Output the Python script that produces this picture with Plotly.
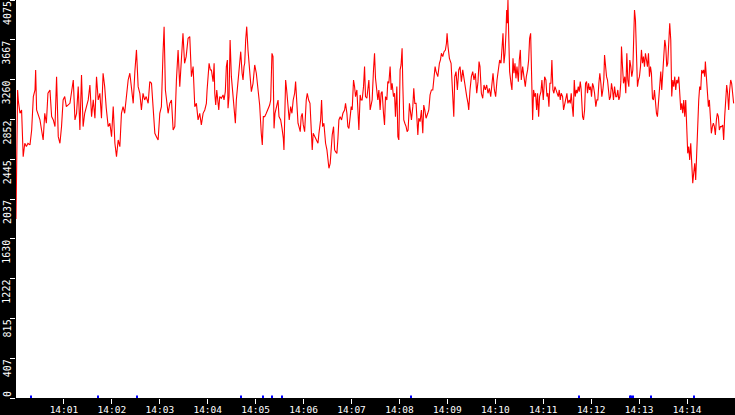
import pandas as pd
import plotly.graph_objects as go

time_s = [
    0, 1, 2, 3, 5, 7, 9, 11, 13, 15, 17.5, 19.6, 21.7, 23.8, 24.6, 25.8, 27.9, 30, 32, 34,
    36, 38, 40, 42.5, 44.6, 46.7, 48.8, 50.8, 52.9, 55, 57, 59, 61, 63, 67.5, 69.6, 71.7, 73.8, 75.8, 77.9,
    80, 82, 84, 86, 88, 90.4, 92.5, 94.6, 96.7, 98.8, 100.8, 102.9, 105, 107, 109, 111, 113, 115.4, 117.5, 119.6,
    121.7, 123.8, 125.8, 127.9, 130, 132, 134, 136, 138, 140.4, 142.5, 144.6, 146.7, 148.8, 150.8, 152.9, 155, 157, 159, 161,
    163, 165.4, 167.5, 169.6, 171.7, 173.8, 175.8, 177.9, 180, 182, 184, 185.4, 187, 188, 190.4, 192.5, 194.6, 196.7, 198.8, 200.8,
    202.9, 205, 207, 209, 211, 213, 215.4, 217.5, 219.6, 221.7, 223.8, 225.8, 227.9, 230,
    232, 234.2, 236.3, 238.3, 239.2, 240.4, 241.7, 243.3, 244.6, 246.7, 248, 248.8, 250, 251.3, 253, 253.8, 255, 257, 259.2, 260.4,
    262, 263.3, 264.6, 265.4, 266.7, 268, 269.6, 271.7, 273, 274.6, 275.8, 278, 280, 281.3, 283, 284.2, 285.4, 286.3, 287.5, 288.8,
    290.4, 291.7, 293, 294.6, 296.7, 298.8, 300.8, 302.9, 305, 307, 308.3, 309.6, 311.3, 313.3, 315.4, 317.5, 318.8, 320.4, 321.7, 323,
    324.2, 325.8, 328, 329.2, 331.3, 333, 334.6, 335.4, 336.3, 337.5, 338.8, 340.4, 342, 343.8, 345.4, 347, 348.8, 350, 351.3, 353,
    354.2, 355.8, 357, 358.3, 359.6, 361.3, 363.3, 364.6, 366.3, 368, 369.6, 370.8, 372, 373.8, 375.8, 378, 379.2, 381.3, 382.5, 383.8,
    385.4,
    387.5, 389.2, 390.4, 391.7, 393.3, 394.6, 395.8, 397.5, 398.8, 400, 401.7, 403, 404.2, 405.8, 407.5, 409.2, 411.3, 412.5, 414.2, 415.4,
    416.7, 418.3, 419.6, 420.8, 422.5, 423.8, 425, 426.7, 428, 429.2, 430.8, 432, 433.3, 435, 436.3, 437.5, 439.2, 440.4, 441.7, 443.3,
    444.6, 445.8, 447.5, 448.8, 450, 451.7, 452.9, 454.2, 455.8, 457, 458.3, 460, 461.3, 462.5, 464.2, 465.4, 466.7, 468.3, 469.6, 470.8,
    472.5, 473.8, 475, 476.7, 478, 479.2, 480.8, 482, 483.3, 484.2, 485.4, 486.7, 488.3, 489.6, 490.8, 492.5, 493.8, 495, 496.7, 497.9,
    499.2, 500.8, 503, 504.2, 505.8, 507.5, 509.2, 510.4, 511.7, 513.3, 515.4, 516.7, 518.3, 520, 521.7, 523.3, 524.6, 525.8, 528, 530,
    531.3, 532.5, 534.2, 535.8, 537.5, 538.8, 539.6, 540.8, 542.5, 544.6, 546.7, 548,
    549.2, 550.8, 552.5, 554.2, 555.8, 557.5, 559.2, 560.8, 562.5, 564.2, 565.8, 566.7, 568.3, 570, 571.7, 573.3, 575, 576.7, 578.3, 579.6,
    580.8, 582.5, 584.2, 585.8, 587.5, 589.2, 590.8, 592.5, 594.2, 595.8, 597.1, 598.8, 600.4, 602.1, 603.8, 605.4, 607.1, 608.3, 609.6, 610.8,
    612.1, 613.3, 614.2, 615, 615.8, 616.7, 617.9, 619.6, 620.8, 622.1, 623.3, 624.6, 625.8, 627.1, 628.8, 630, 631.3, 632.5, 634.2, 635.8,
    637.5, 638.8, 640.4, 641.7, 642.9, 644.2, 645.4, 646.7, 647.9, 649.2, 650.4, 651.7, 652.9, 654.2, 655.4, 657.1, 658.3, 660, 661.7, 663.3,
    664.6, 665.8, 667.1, 668.3, 669.6, 670.8, 672.1, 673.3, 674.6, 675.8, 677.5, 678.8, 680, 681.3, 682.5, 684.2, 685.4, 686.7, 688.3, 689.6,
    690.8, 692.5, 693.8, 695, 696.3, 697.5, 698.8, 700, 701.3, 702.5, 703.8, 705, 706.3, 707.5, 709.2, 710.4, 711.7, 712.9, 714.2, 715.4,
    716.7, 717.9, 719.2, 720.4, 721.7, 722.9, 724.2, 725.8, 727.1, 728.3, 729.6, 730.8, 732.1, 733.3, 734.6, 735.8, 736.7, 737.9, 739.2, 740.4,
    741.7, 742.9, 744.2, 745.4, 746.7, 747.9, 749.2, 750.8, 752.1, 753.3, 754.6, 755.8, 757.1, 757.9, 759.2, 760.4, 762.1, 763.3, 764.6, 765.8,
    767.1, 768.3, 769.6, 770.8, 772.1, 772.9, 774.2, 775.4, 776.7, 777.9, 779.2, 780.4, 781.7, 782.9, 784.2, 785.4, 786.7, 787.9, 789.2, 790.4,
    791.7, 792.9, 794.2, 795.4, 796.7, 797.9, 799.2, 800.4, 801.7, 802.9, 804.2, 805.8, 807.1, 808.3, 809.6, 810.8, 812.1, 813.3, 814.6, 815.8,
    817.1, 818.3, 819.6, 820.8, 822.1, 823.3, 824.6, 825.8, 827.1, 828.3, 829.6, 830.8, 832.1, 833.3, 834.6, 835.8, 837.1, 838.3, 839.6, 840.8,
    842.1, 843.3, 844.6, 845.8, 847.1, 848.3, 849.6, 850.8, 852.1, 853.3, 854.6, 855.8, 857.1, 858.3, 859.6, 860.8, 862.1, 862.9, 864.2, 865.4,
    866.7, 867.9, 869.2, 870.4, 871.7, 872.9, 874.2, 875.4, 876.7, 877.9, 879.2, 880.4, 881.7, 883.3, 884.6, 885.8, 887.1, 888.3, 889.6, 890.8,
    892.1, 893.3, 894.6, 895.8, 896.7, 898.3,
]
load = [
    1833, 2864, 3154, 3034, 2915, 2949, 2471, 2608, 2574, 2608, 2591, 2744, 3086, 3154, 3359, 2949, 2898, 2847, 2744, 2642,
    2915, 2813, 3120, 3154, 2881, 2847, 2779, 3290, 2676, 2608, 2779, 3052, 3086, 2983, 3017, 3154, 3256, 2847, 2915, 3188,
    2744, 3308, 2779, 2915, 2983, 3052, 3205, 2881, 3052, 2864, 3290, 3052, 3120, 2864, 3325, 3188, 2966, 2779, 2813, 2676,
    2983, 2608, 2471, 2642, 2574, 2915, 2983, 2915, 3069, 3256, 3325, 3188, 3017, 3342, 3564, 3188, 3120, 2949, 3120, 3052,
    3086, 3017, 3239, 3222, 2898, 2710, 2676, 2642, 2915, 2983, 3529, 3802, 3154, 3086, 2915, 3017, 3052, 2744, 2779, 3256,
    3564, 3188, 3529, 3734, 3427, 3495, 3683, 3700, 3290, 3393, 2983, 3017, 2847, 2915,
    2796, 2915, 2949, 3017, 3154, 3256, 3427, 3359, 3359, 3239, 3427, 3120, 3000, 3154, 3051, 2949, 3086, 3069, 3103, 3051,
    3137, 3393, 3461, 2966, 3086, 3666, 3290, 3051, 2949, 2813, 3051, 3256, 3427, 3546, 3325, 3256, 3393, 3427, 3666, 3802,
    3563, 3427, 3325, 3137, 3222, 3410, 3325, 3154, 3000, 2710, 2591, 2881, 2881, 2915, 2949, 3000, 3051, 3529, 3495, 2761,
    2915, 2983, 3051, 2881, 2847, 2761, 2659, 2540, 2949, 3256, 3154, 2949, 2847, 2983, 2915, 3051, 3120, 3239, 2983, 2813,
    2778, 2727, 2881, 2915, 2796, 2727, 3051, 3120, 3051, 3017, 2744, 2540, 2710, 2676, 2642, 2608, 2710, 2847, 3051, 2778,
    2813,
    2608, 2540, 2437, 2352, 2403, 2574, 2693, 2778, 2540, 2522, 2505, 2659, 2847, 2881, 2847, 2915, 2949, 3017, 2915, 2778,
    2761, 2881, 2983, 2949, 3256, 3188, 3086, 3154, 2881, 2744, 3103, 3051, 3051, 3188, 3393, 3086, 3069, 3188, 3256, 2949,
    3000, 3051, 3359, 3529, 3273, 3120, 3051, 3154, 2949, 3120, 3137, 2915, 2796, 3086, 3051, 3239, 3222, 3393, 3154, 3222,
    3086, 3120, 2881, 3188, 2676, 2642, 3359, 3410, 3580, 3205, 2847, 2813, 2778, 2727, 2744, 3017, 2949, 2847, 2983, 3171,
    3017, 3017, 2693, 2864, 2830, 2949, 2710, 3000, 2949, 2864, 2915, 2949, 3103, 3154, 3154, 3290, 3393, 3342, 3290, 3427,
    3461, 3529, 3495, 3546, 3563, 3632, 3734, 3598, 3478, 3427, 3051, 2881,
    3291, 3342, 3154, 3359, 3393, 3239, 3359, 3256, 3154, 3086, 3017, 2949, 3154, 3290, 3342, 3256, 3325, 3120, 3239, 3444,
    3393, 3120, 3069, 3205, 3154, 3205, 3120, 3171, 3086, 3256, 3325, 3154, 3086, 3256, 3393, 3461, 3427, 3581, 3734, 3427,
    3529, 3734, 3973, 3837, 4075, 3734, 3342, 3222, 3154, 3478, 3325, 3427, 3273, 3393, 3239, 3461, 3564, 3256, 3393, 3290,
    3188, 3290, 3359, 3461, 3683, 3734, 3359, 2847, 3154, 3086, 3120, 2949, 3120, 2881, 3086, 3137, 3256, 3052, 3290, 3256,
    3086, 3120, 2983, 3222, 3222, 3461, 3154, 3120, 3188, 3154, 3120, 3086, 3154, 3052, 3120, 3086, 2949, 3017, 3052, 3120,
    3017, 3052, 3017, 3120, 2983, 2881, 3256, 3086, 3154, 3120, 3188, 3137, 3239, 3154, 2881, 2847, 2949, 3222, 3239, 3120,
    3222, 3154, 3188, 3086, 3222, 3188, 3120, 2983, 3052, 3052, 3222, 3325, 3222, 3086, 3154, 3256, 3512, 3393, 3290, 3256,
    3120, 3052, 3086, 3222, 3154, 3052, 3188, 3086, 3086, 3154, 3052, 3086, 3239, 3598, 3393, 3222, 3290, 3120, 3529, 3256,
    3188, 3461, 3393, 3290, 3359, 3700, 3973, 3871, 3564, 3188, 3256, 3290, 3393, 3564, 3427, 3495, 3393, 3529, 3461, 3393,
    3529, 3290, 3393, 3325, 3069, 3052, 3154, 2983, 2915, 2881, 3017, 3256, 3342, 3154, 3325, 3564, 3666, 3598, 3393, 3427,
    3768, 3837, 3666, 3086, 3256, 3188, 3290, 3154, 3256, 3222, 3290, 3154, 2949, 3017, 2915, 3052, 2881, 3052, 2710, 2505,
    2574, 2437, 2608, 2369, 2198, 2301, 2403, 2232, 2574, 2881, 3052, 3188, 3154, 3359, 3325, 3359, 3290, 3444, 3290, 3052,
    2983, 3052, 2813, 2710, 2779, 2813, 2779, 2693, 2847, 2915, 2881, 2744, 2779, 2779, 2796, 2642, 2881, 3052, 3205, 3120,
    2949, 3154, 3256, 3222, 3120, 3017,
]
assert len(time_s) == len(load)

# small blue events near zero
event_s = [19, 103, 151, 282, 309, 321, 333, 494, 705, 768, 770, 772, 795, 849]
event_val = [25] * len(event_s)

y_ticks = [0, 407, 815, 1222, 1630, 2037, 2445, 2852, 3260, 3667, 4075]
x_tick_labels = ["14:01", "14:02", "14:03", "14:04", "14:05", "14:06", "14:07",
                 "14:08", "14:09", "14:10", "14:11", "14:12", "14:13", "14:14"]

day = "2024-01-01"
base = pd.Timestamp(f"{day} 14:00:00")
x = base + pd.to_timedelta(time_s, unit="s")
x_events = base + pd.to_timedelta(event_s, unit="s")
x_tickvals = [pd.Timestamp(f"{day} {lbl}:00") for lbl in x_tick_labels]

fig = go.Figure()
fig.add_trace(go.Bar(x=x_events, y=event_val, width=1200,
                     marker=dict(color="#0000ff", line=dict(width=0))))
fig.add_trace(go.Scatter(x=x, y=load, mode="lines",
                         line=dict(color="#ff0000", width=1.1)))

yfont = dict(family="DejaVu Sans Mono", size=10, color="white")
xfont = dict(family="DejaVu Sans Mono", size=9.5, color="white")

# y labels hang below their tick (the bottom one sits above it)
for v in y_ticks:
    fig.add_annotation(text=str(v), xref="paper", x=0, xshift=-9, xanchor="center",
                       yref="y", y=v, yanchor="bottom" if v == 0 else "top",
                       textangle=-90, showarrow=False, font=yfont, borderpad=0)

fig.update_layout(
    width=735, height=415,
    margin=dict(l=16, r=0, t=0, b=17, pad=0),
    paper_bgcolor="black", plot_bgcolor="white",
    showlegend=False,
    xaxis=dict(range=[f"{day} 14:00:00", f"{day} 14:15:00"],
               tickvals=x_tickvals, ticktext=x_tick_labels,
               ticks="outside", ticklen=5, tickcolor="white", tickwidth=1,
               ticklabelstandoff=-2,
               tickfont=xfont, showgrid=False, zeroline=False,
               showline=False, automargin=False),
    yaxis=dict(range=[0, 4075], tickvals=y_ticks, showticklabels=False,
               ticks="outside", ticklen=5, tickcolor="white", tickwidth=1,
               showgrid=False, zeroline=False,
               showline=False, automargin=False),
)

# drop the browser's default body margin so the figure sits at the page corner
fig.write_html("out.html", config={"displayModeBar": False},
               post_script="document.body.style.margin='0';")
